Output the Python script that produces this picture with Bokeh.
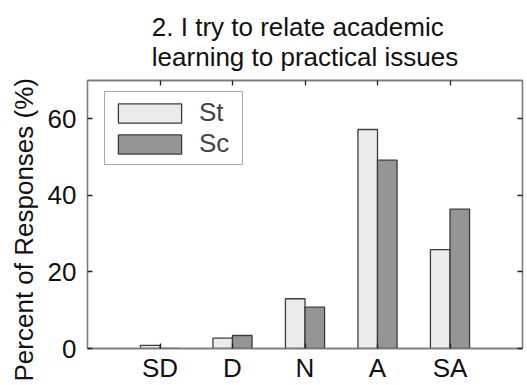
from bokeh.plotting import figure
from bokeh.models import (ColumnDataSource, Range1d, FixedTicker, LinearAxis,
                          Legend, LegendItem, Title)
from bokeh.transform import dodge
from bokeh.embed import file_html
from bokeh.resources import INLINE

# Survey item 2: response distribution (percent) for two groups
categories = ["SD", "D", "N", "A", "SA"]
positions = [1, 2, 3, 4, 5]
st_values = [0.8, 2.7, 13.0, 57.2, 25.8]
sc_values = [0.0, 3.4, 10.8, 49.2, 36.4]
y_ticks = [0, 20, 40, 60]
title_text = "2. I try to relate academic\nlearning to practical issues"
y_label = "Percent of Responses (%)"

FONT = "Liberation Sans"
FS = "26px"
EDGE = "#3c3c3c"
FRAME = "#7a7a7a"
INK = "#111111"

src = ColumnDataSource(dict(x=positions, st=st_values, sc=sc_values))

p = figure(width=527, height=385, output_backend="svg", toolbar_location=None,
           x_range=Range1d(0, 6), y_range=Range1d(0, 70),
           min_border_left=86, min_border_right=5,
           min_border_top=80, min_border_bottom=36)

p.title.text = title_text
p.title.align = "center"
p.title.text_font = FONT
p.title.text_font_size = FS
p.title.text_font_style = "normal"
p.title.text_color = INK
p.title.standoff = 17

p.grid.visible = False
p.background_fill_color = "white"
p.border_fill_color = "white"
p.outline_line_color = FRAME
p.outline_line_width = 1.3

bar_w = 0.27
r_st = p.vbar(x=dodge("x", -bar_w / 2, range=p.x_range), top="st", width=bar_w,
              source=src, fill_color="#ebebeb", line_color=EDGE, line_width=1.3)
r_sc = p.vbar(x=dodge("x", bar_w / 2, range=p.x_range), top="sc", width=bar_w,
              source=src, fill_color="#959595", line_color=EDGE, line_width=1.3)


def style_axis(ax, show_labels):
    ax.axis_line_color = FRAME
    ax.axis_line_width = 1.3
    ax.major_tick_in = 5
    ax.major_tick_out = 0
    ax.major_tick_line_color = "#222222"
    ax.major_tick_line_width = 1.3
    ax.minor_tick_line_color = None
    ax.major_label_text_font = FONT
    if show_labels:
        ax.major_label_text_font_size = FS
        ax.major_label_text_color = INK
    else:
        ax.major_label_text_font_size = "1px"
        ax.major_label_text_color = None
        ax.major_label_standoff = 0


xticker = FixedTicker(ticks=positions)
yticker = FixedTicker(ticks=y_ticks)

xa = p.xaxis[0]
xa.ticker = xticker
xa.major_label_overrides = {pos: lab for pos, lab in zip(positions, categories)}
style_axis(xa, True)
xa.major_label_standoff = 4

ya = p.yaxis[0]
ya.ticker = yticker
style_axis(ya, True)
ya.major_label_standoff = 11

top_ax = LinearAxis(ticker=xticker)
style_axis(top_ax, False)
p.add_layout(top_ax, "above")

right_ax = LinearAxis(ticker=yticker)
style_axis(right_ax, False)
p.add_layout(right_ax, "right")

# y-axis title, starting just below the frame's bottom edge
p.add_layout(Title(text=y_label, align="left", offset=-33, text_font=FONT,
                   text_font_size=FS, text_font_style="normal",
                   text_color=INK, standoff=12), "left")

legend = Legend(items=[LegendItem(label="St", renderers=[r_st]),
                       LegendItem(label="Sc", renderers=[r_sc])],
                location=(17, 183), glyph_width=79, glyph_height=24,
                spacing=0, padding=5, margin=0, label_standoff=10,
                label_width=38,
                label_text_font=FONT, label_text_font_size=FS,
                border_line_color="#555555", border_line_width=1.3,
                background_fill_color="white", background_fill_alpha=1.0)
p.add_layout(legend)

open("out.html", "w").write(file_html(p, INLINE))
